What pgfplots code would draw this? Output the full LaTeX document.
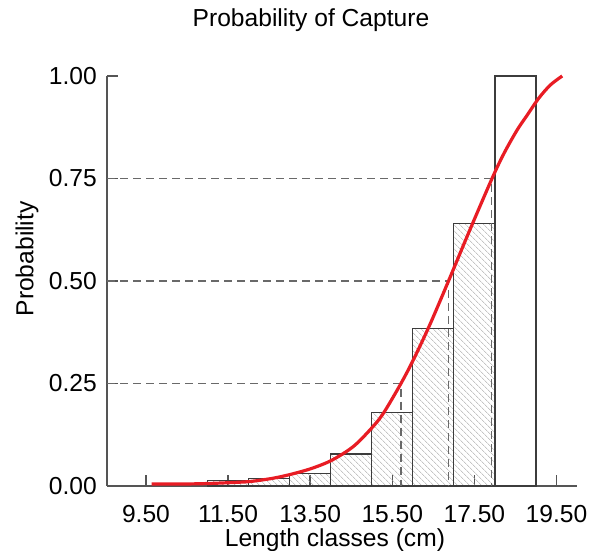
\documentclass[border=0pt]{standalone}
\usepackage{fontspec}
\setmainfont{Liberation Sans}
\usepackage{pgfplots}
\pgfplotsset{compat=1.18}
\usetikzlibrary{patterns.meta}
\definecolor{axgray}{RGB}{85,85,85}
\definecolor{bargray}{RGB}{60,60,60}
\definecolor{dashgray}{RGB}{105,105,105}
\definecolor{hatchgray}{RGB}{165,165,165}
\definecolor{curvered}{RGB}{232,28,36}
\newcommand{\bigfont}{\fontsize{24.6}{29}\selectfont}
\begin{document}
\begin{tikzpicture}
\useasboundingbox (0,0) rectangle (598pt,551pt);
\begin{axis}[
  at={(107pt,65pt)}, anchor=south west,
  scale only axis, width=470pt, height=410pt,
  xmin=8.55, xmax=20.0, ymin=0, ymax=1,
  axis x line*=bottom, axis y line*=left,
  axis line style={-, draw=axgray, line width=1.4pt},
  tick align=inside, major tick length=11pt,
  tick style={draw=axgray, line width=1.4pt},
  xtick={9.5,11.5,13.5,15.5,17.5,19.5},
  xticklabels={9.50,11.50,13.50,15.50,17.50,19.50},
  ytick={0,0.25,0.5,0.75,1},
  yticklabels={0.00,0.25,0.50,0.75,1.00},
  ticklabel style={font=\bigfont},
  xticklabel style={inner sep=0pt, anchor=north, yshift=-19pt},
  yticklabel style={inner sep=0pt, anchor=east, xshift=-10pt},
  title={Probability of Capture},
  title style={at={(axis description cs:0.434,1.107)}, anchor=base, font=\bigfont, inner sep=0pt},
  xlabel={Length classes (cm)},
  xlabel style={at={(axis description cs:0.485,-0.148)}, anchor=base, font=\bigfont, inner sep=0pt},
  ylabel={Probability},
  ylabel style={at={(axis description cs:-0.170,0.554)}, anchor=center, font=\bigfont, inner sep=0pt},
  clip=false,
]
% hatched bars
\addplot[ybar, bar width=1, bar shift=0pt, draw=bargray, line width=1.2pt,
  pattern={Lines[angle=-45,distance=4pt,line width=0.6pt]}, pattern color=hatchgray]
  coordinates {(11.5,0.014)(12.5,0.019)(13.5,0.031)(14.5,0.078)(15.5,0.179)(16.5,0.385)(17.5,0.641)};
% white bar
\addplot[ybar, bar width=1, bar shift=0pt, draw=bargray, line width=1.2pt, fill=white]
  coordinates {(18.5,1.0)};
% dashed reference lines
\addplot[dashgray, line width=1.4pt, dash pattern=on 8pt off 5pt]
  coordinates {(8.55,0.25)(15.71,0.25)(15.71,0)};
\addplot[dashgray, line width=1.4pt, dash pattern=on 8pt off 5pt]
  coordinates {(8.55,0.5)(16.87,0.5)(16.87,0)};
\addplot[dashgray, line width=1.4pt, dash pattern=on 8pt off 5pt]
  coordinates {(8.55,0.75)(17.91,0.75)(17.91,0)};
% fitted curve
\addplot[curvered, line width=3.2pt, smooth]
  coordinates {(9.64,0.005)(10.5,0.005)(11.0,0.006)(11.5,0.008)(12.04,0.011)(12.6,0.019)
  (13.05,0.029)(13.54,0.043)(14.03,0.063)(14.56,0.097)(15.04,0.146)(15.3,0.180)
  (15.70,0.248)(16.0,0.305)(16.4,0.390)(16.87,0.500)(17.4,0.627)(17.93,0.750)
  (18.22,0.811)(18.54,0.868)(18.79,0.905)(19.07,0.946)(19.35,0.978)(19.64,1.0)};
\end{axis}
\end{tikzpicture}
\end{document}
